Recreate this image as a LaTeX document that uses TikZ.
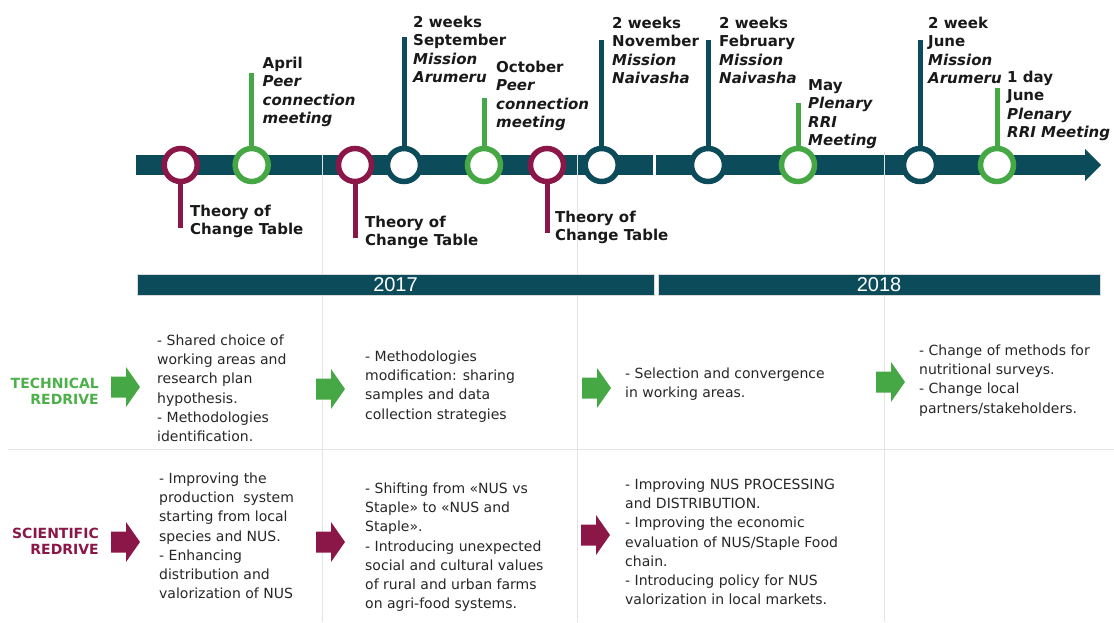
\documentclass[tikz,border=0pt]{standalone}
\usepackage{fontspec}
\setmainfont{DejaVu Sans}
\newfontfamily\yearfont{Liberation Sans}
\definecolor{tl}{HTML}{0C4B5A}
\definecolor{gr}{HTML}{45A845}
\definecolor{grl}{HTML}{4DB04A}
\definecolor{mr}{HTML}{8A1747}
\definecolor{gridc}{HTML}{E4E4E4}
\begin{document}
\begin{tikzpicture}[x=1pt,y=-1pt,
  ring/.style={circle, draw, line width=5.5pt, fill=white, inner sep=0pt, minimum size=33pt},
  stemline/.style={line width=5pt},
  evt/.style={anchor=base west, align=left, inner sep=0pt, font=\fontsize{15}{18.5}\selectfont\bfseries, text=black!90},
  body/.style={anchor=base west, align=left, inner sep=0pt, font=\fontsize{14}{19.2}\selectfont, text=black!85},
  rowlab/.style={anchor=base east, align=right, inner sep=0pt, font=\fontsize{14}{16.5}\selectfont\bfseries},
  gridline/.style={draw=gridc, line width=1pt},
  yearbar/.style={fill=tl, draw=black!15, line width=0.5pt, text=white, font=\yearfont\fontsize{20}{24}\selectfont, inner sep=0pt, minimum height=21pt}
]
\useasboundingbox (0,0) rectangle (1114,622);

% timeline bar
\fill[tl] (136,155) rectangle (1086,175);
\fill[tl] (1085,149) -- (1101,165) -- (1085,181) -- cycle;
\fill[white] (652.5,152) rectangle (656,178);

% grid
\draw[gridline] (322.5,155) -- (322.5,622);
\draw[gridline] (577.5,155) -- (577.5,622);
\draw[gridline] (884.5,152) -- (884.5,622);
\draw[gridline] (8,449.5) -- (1114,449.5);

% year bars
\node[yearbar, minimum width=517pt] (y17) at (395.5,284.5) {2017};
\node[yearbar, minimum width=442pt] (y18) at (879,284.5) {2018};

% event circles
\node[ring, draw=mr] (m1) at (180.7,165) {};
\node[ring, draw=gr] (g1) at (251.7,165) {};
\node[ring, draw=mr] (m2) at (355,165) {};
\node[ring, draw=tl] (t1) at (404,165) {};
\node[ring, draw=gr] (g2) at (484,165) {};
\node[ring, draw=mr] (m3) at (547,165) {};
\node[ring, draw=tl] (t2) at (601.7,165) {};
\node[ring, draw=tl] (t3) at (708,165) {};
\node[ring, draw=gr] (g3) at (798,165) {};
\node[ring, draw=tl] (t4) at (920,165) {};
\node[ring, draw=gr] (g4) at (997,165) {};

% stem ends
\coordinate (m1e) at (180.7,228);
\coordinate (g1e) at (251.7,73);
\coordinate (m2e) at (355,238);
\coordinate (t1e) at (404,37);
\coordinate (g2e) at (484,98);
\coordinate (m3e) at (547,233);
\coordinate (t2e) at (601.7,40);
\coordinate (t3e) at (708,40);
\coordinate (g3e) at (798,103);
\coordinate (t4e) at (920,40);
\coordinate (g4e) at (997,88);

\draw[stemline, mr] (m1.south) -- (m1e);
\draw[stemline, gr] (g1.north) -- (g1e);
\draw[stemline, mr] (m2.south) -- (m2e);
\draw[stemline, tl] (t1.north) -- (t1e);
\draw[stemline, gr] (g2.north) -- (g2e);
\draw[stemline, mr] (m3.south) -- (m3e);
\draw[stemline, tl] (t2.north) -- (t2e);
\draw[stemline, tl] (t3.north) -- (t3e);
\draw[stemline, gr] (g3.north) -- (g3e);
\draw[stemline, tl] (t4.north) -- (t4e);
\draw[stemline, gr] (g4.north) -- (g4e);

% event labels (anchor = baseline of last line)
\node[evt] (lm1) at (190,234.5) {Theory of\\Change Table};
\node[evt] (lg1) at (262.5,123.5) {April\\\textit{Peer}\\\textit{connection}\\\textit{meeting}};
\node[evt] (lm2) at (365,245.5) {Theory of\\Change Table};
\node[evt] (lt1) at (413,82.5) {2 weeks\\September\\\textit{Mission}\\\textit{Arumeru}};
\node[evt] (lg2) at (496,127.5) {October\\\textit{Peer}\\\textit{connection}\\\textit{meeting}};
\node[evt] (lm3) at (555,240.5) {Theory of\\Change Table};
\node[evt] (lt2) at (612,83.5) {2 weeks\\November\\\textit{Mission}\\\textit{Naivasha}};
\node[evt] (lt3) at (719,83.5) {2 weeks\\February\\\textit{Mission}\\\textit{Naivasha}};
\node[evt] (lg3) at (808,145.5) {May\\\textit{Plenary}\\\textit{RRI}\\\textit{Meeting}};
\node[evt] (lt4) at (928,83.5) {2 week\\June\\\textit{Mission}\\\textit{Arumeru}};
\node[evt] (lg4) at (1007,137.5) {1 day\\June\\\textit{Plenary}\\\textit{RRI Meeting}};

% row labels
\node[rowlab, text=grl] (tech) at (99,404.5) {TECHNICAL\\REDRIVE};
\node[rowlab, text=mr] (sci) at (99,554.5) {SCIENTIFIC\\REDRIVE};

% block arrows
\newcommand\blockarrow[3]{\fill[#1] (#2,#3) ++(0,-10.5) -- ++(15,0) -- ++(0,-9.5) -- ++(14,20) -- ++(-14,20) -- ++(0,-9.5) -- ++(-15,0) -- cycle;}
\blockarrow{gr}{111}{387}
\blockarrow{gr}{316}{389}
\blockarrow{gr}{582}{388}
\blockarrow{gr}{876}{382}
\blockarrow{mr}{111}{542}
\blockarrow{mr}{316}{542}
\blockarrow{mr}{581}{535}

% technical texts
\node[body] (tx1) at (157,441.5) {- Shared choice of\\working areas and\\research plan\\hypothesis.\\- Methodologies\\identification.};
\node[body] (tx2) at (365,419.1) {- Methodologies\\modification: sharing\\samples and data\\collection strategies};
\node[body] (tx3) at (625,397.7) {- Selection and convergence\\in working areas.};
\node[body] (tx4) at (919,413.1) {- Change of methods for\\nutritional surveys.\\- Change local\\partners/stakeholders.};

% scientific texts
\node[body] (sx1) at (159,598.7) {- Improving the\\production\ \ system\\starting from local\\species and NUS.\\- Enhancing\\distribution and\\valorization of NUS};
\node[body] (sx2) at (365,608.7) {- Shifting from «NUS vs\\Staple» to «NUS and\\Staple».\\- Introducing unexpected\\social and cultural values\\of rural and urban farms\\on agri-food systems.};
\node[body] (sx3) at (625,604.7) {- Improving NUS PROCESSING\\and DISTRIBUTION.\\- Improving the economic\\evaluation of NUS/Staple Food\\chain.\\- Introducing policy for NUS\\valorization in local markets.};
\end{tikzpicture}
\end{document}
